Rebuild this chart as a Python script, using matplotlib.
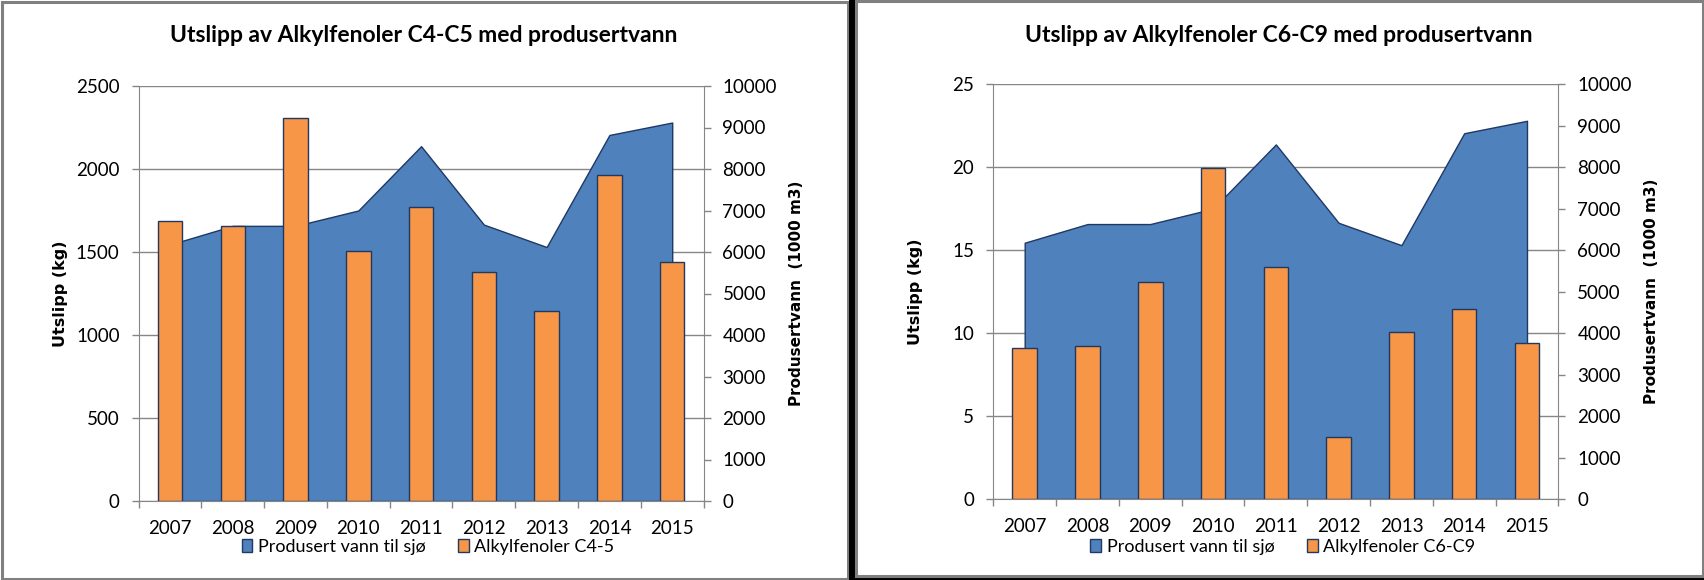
import matplotlib
matplotlib.use("Agg")
import matplotlib.pyplot as plt
from matplotlib.patches import Rectangle, Patch
import numpy as np

# data
years = [2007, 2008, 2009, 2010, 2011, 2012, 2013, 2014, 2015]
vann_til_sjo = [6180, 6630, 6630, 7000, 8550, 6660, 6120, 8820, 9120]   # 1000 m3
alkyl_c4_c5 = [1687, 1655, 2305, 1504, 1773, 1377, 1147, 1962, 1442]    # kg
alkyl_c6_c9 = [9.08, 9.24, 13.1, 19.93, 14.0, 3.72, 10.09, 11.47, 9.39]  # kg

W, H = 1704, 580
BLUE = '#4f81bd'
ORANGE = '#f79646'
EDGE = '#1f3864'
GREY = '#868686'

plt.rcParams['font.family'] = ['Lato', 'DejaVu Sans']
plt.rcParams['font.size'] = 13.5

fig = plt.figure(figsize=(W / 100, H / 100), dpi=100)


def fx(px):
    return px / W


def fy(py):
    return 1 - py / H


def panel(x0, x1, ytop, ybot, title, values, ymax, ystep, bar_name):
    ax2 = fig.add_axes([fx(x0), fy(ybot), fx(x1 - x0), (ybot - ytop) / H])
    ax = fig.add_axes(ax2.get_position(), sharex=ax2)
    ax.set_zorder(ax2.get_zorder() + 1)
    ax.patch.set_visible(False)

    x = np.arange(len(years))
    # gridlines sit behind the area, so they live on the back axes
    yt = np.arange(0, ymax + ystep / 2, ystep)
    for t in yt:
        ax2.axhline(t / ymax * 10000, color=GREY, lw=1, zorder=0)

    ax2.fill_between(x, vann_til_sjo, 0, facecolor=BLUE, edgecolor=EDGE,
                     lw=1, zorder=2)
    ax.bar(x, values, width=0.39, color=ORANGE, edgecolor=EDGE, lw=1, zorder=3)

    ax.set_xlim(-0.5, len(years) - 0.5)
    ax.set_ylim(0, ymax)
    ax.set_yticks(yt)
    ax2.set_ylim(0, 10000)
    ax2.yaxis.tick_right()
    ax2.yaxis.set_label_position('right')
    ax2.set_yticks(np.arange(0, 10001, 1000))

    ax.set_xticks(x)
    ax.set_xticklabels([str(y) for y in years])
    ax.set_xticks(np.arange(-0.5, len(years)), minor=True)
    ax.tick_params(axis='x', which='major', length=0, pad=14)
    ax.tick_params(axis='x', which='minor', length=5, color=GREY, width=1)
    ax.tick_params(axis='y', length=4.7, color=GREY, width=1, pad=9)
    ax2.tick_params(axis='y', length=5, color=GREY, width=1, pad=8.6)
    ax2.tick_params(axis='x', which='both', length=0, labelbottom=False)

    for a in (ax, ax2):
        for s in a.spines.values():
            s.set_visible(False)
    ax.spines['left'].set_visible(True)
    ax.spines['left'].set_color(GREY)
    ax.spines['bottom'].set_visible(True)
    ax.spines['bottom'].set_color(GREY)
    ax2.spines['right'].set_visible(True)
    ax2.spines['right'].set_color(GREY)

    cy = (ytop + ybot) / 2
    ax.set_ylabel('Utslipp (kg)', family='DejaVu Sans', fontweight='bold',
                  fontsize=11.5, va='center')
    ax.yaxis.set_label_coords(fx(x0 - 78), fy(cy), transform=fig.transFigure)
    ax2.set_ylabel('Produsertvann  (1000 m3)', family='DejaVu Sans',
                   fontweight='bold', fontsize=11, va='center', rotation=90)
    ax2.yaxis.set_label_coords(fx(x1 + 93), fy(cy), transform=fig.transFigure)

    cx = (x0 + x1) / 2
    fig.text(fx(cx + 3), fy(35), title, ha='center', va='center',
             fontsize=16.5, fontweight='bold')

    handles = [Patch(facecolor=BLUE, edgecolor=EDGE, lw=1),
               Patch(facecolor=ORANGE, edgecolor=EDGE, lw=1)]
    fig.legend(handles, ['Produsert vann til sjø', bar_name], ncol=2,
               loc='center', bbox_to_anchor=(fx(cx + 7), fy(547)),
               frameon=False, handlelength=0.6, handleheight=0.7,
               handletextpad=0.3, columnspacing=1.8, borderpad=0,
               fontsize=13)
    return ax, ax2


panel(138.6, 703.6, 86, 501, 'Utslipp av Alkylfenoler C4-C5 med produsertvann',
      alkyl_c4_c5, 2500, 500, 'Alkylfenoler C4-5')
panel(993.3, 1558.4, 84.3, 499, 'Utslipp av Alkylfenoler C6-C9 med produsertvann',
      alkyl_c6_c9, 25, 5, 'Alkylfenoler C6-C9')

# chart frames (gray border) and the black gap / shadow between them
fig.patches.append(Rectangle((fx(1.5), fy(578.5)), fx(846), (577) / H,
                             transform=fig.transFigure, fill=False,
                             edgecolor='#808080', lw=2.2))
fig.patches.append(Rectangle((fx(849), 0), fx(6), 1, transform=fig.transFigure,
                             facecolor='black', edgecolor='none'))
fig.patches.append(Rectangle((fx(855), 0), fx(849), 3 / H,
                             transform=fig.transFigure, facecolor='black',
                             edgecolor='none'))
fig.patches.append(Rectangle((fx(856), fy(576)), fx(847), 575 / H,
                             transform=fig.transFigure, fill=False,
                             edgecolor='#808080', lw=2.2))

fig.savefig('out.png', dpi=100)
